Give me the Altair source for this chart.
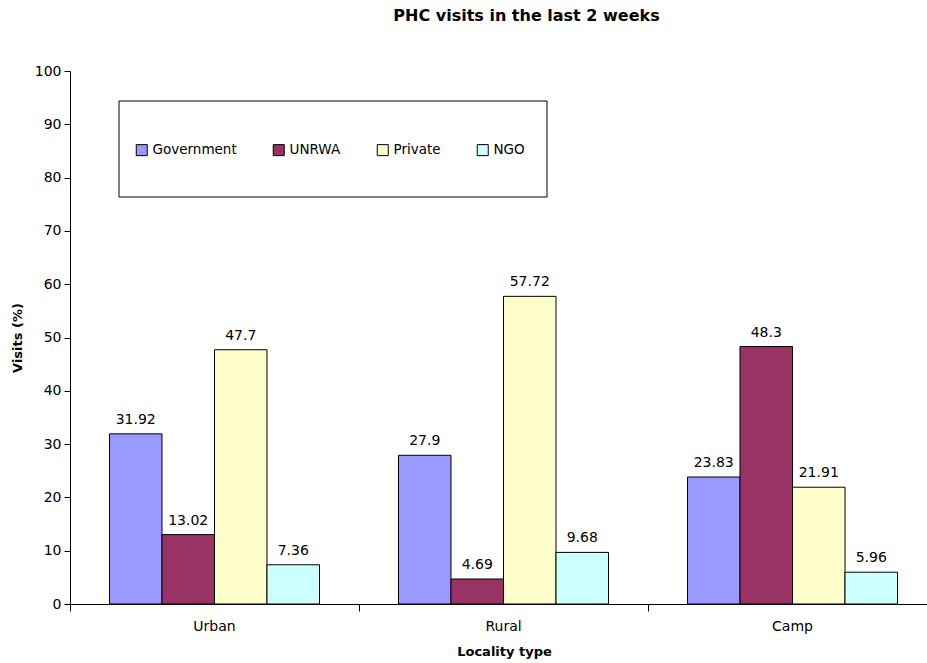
import altair as alt
import pandas as pd

# Share of PHC visits by provider, per locality type (%)
localities = ["Urban", "Rural", "Camp"]
providers = ["Government", "UNRWA", "Private", "NGO"]
government = [31.92, 27.9, 23.83]
unrwa = [13.02, 4.69, 48.3]
private = [47.7, 57.72, 21.91]
ngo = [7.36, 9.68, 5.96]
provider_colors = ["#9999FF", "#993366", "#FFFFCC", "#CCFFFF"]
y_ticks = [0, 10, 20, 30, 40, 50, 60, 70, 80, 90, 100]

series = dict(zip(providers, [government, unrwa, private, ngo]))
rows = []
for p in providers:
    for loc, v in zip(localities, series[p]):
        rows.append({"locality": loc, "provider": p, "visits": v, "label": f"{v:g}"})
df = pd.DataFrame(rows)

FONT = "DejaVu Sans"
W, H = 857, 533
STEP_RANGE = 867  # full band range; right end runs past the visible canvas

x_enc = alt.X(
    "locality:N",
    sort=localities,
    scale=alt.Scale(range=[0, STEP_RANGE], paddingInner=0, paddingOuter=0),
    axis=alt.Axis(
        title="Locality type",
        labelAngle=0,
        bandPosition=0,
        tickSize=7,
        labelPadding=8,
        titleX=434,
        titleY=47,
        titleBaseline="middle",
    ),
)
xoff_enc = alt.XOffset(
    "provider:N", sort=providers, scale=alt.Scale(paddingInner=0, paddingOuter=0.752)
)
y_enc = alt.Y(
    "visits:Q",
    scale=alt.Scale(domain=[0, 100], nice=False),
    axis=alt.Axis(
        title="Visits (%)",
        values=y_ticks,
        tickSize=6,
        labelPadding=3,
        grid=False,
        titleX=-53,
        titleBaseline="middle",
    ),
)
color_enc = alt.Color(
    "provider:N",
    sort=providers,
    scale=alt.Scale(domain=providers, range=provider_colors),
    legend=alt.Legend(
        title=None,
        orient="none",
        direction="horizontal",
        columns=4,
        legendX=65,
        legendY=72,
        symbolType="square",
        symbolSize=121,
        symbolStrokeColor="black",
        symbolStrokeWidth=1,
        labelOffset=4,
        columnPadding=34,
        labelFont=FONT,
        labelFontSize=13.5,
        labelColor="black",
    ),
)

base = alt.Chart(df)

bars = base.mark_bar(stroke="black", strokeWidth=1).encode(
    x=x_enc, xOffset=xoff_enc, y=y_enc, color=color_enc
)

labels = base.mark_text(
    font=FONT, fontSize=14, color="black", baseline="alphabetic", dy=-10
).encode(x=x_enc, xOffset=xoff_enc, y="visits:Q", text="label:N")

# Frame around the legend
legend_box = (
    alt.Chart(pd.DataFrame({"k": [0]}))
    .mark_rect(fill="white", stroke="black", strokeWidth=1)
    .encode(x=alt.value(49), x2=alt.value(477), y=alt.value(30), y2=alt.value(126))
)

chart = (
    alt.layer(legend_box, bars, labels)
    .properties(
        width=W,
        height=H,
        autosize=alt.AutoSizeParams(type="none"),
        padding={"left": 70, "top": 71, "right": 0, "bottom": 59},
        title=alt.TitleParams(
            "PHC visits in the last 2 weeks",
            font=FONT,
            fontSize=16,
            fontWeight="bold",
            color="black",
            anchor="middle",
            frame="group",
            dx=28,
            offset=40,
        ),
        background="white",
    )
    .configure_view(stroke=None)
    .configure_axis(
        labelFont=FONT,
        labelFontSize=14,
        labelColor="black",
        titleFont=FONT,
        titleFontSize=13,
        titleFontWeight="bold",
        titleColor="black",
        domainColor="black",
        tickColor="black",
    )
)

chart.save("out.html", embed_options={"renderer": "svg", "actions": False})
